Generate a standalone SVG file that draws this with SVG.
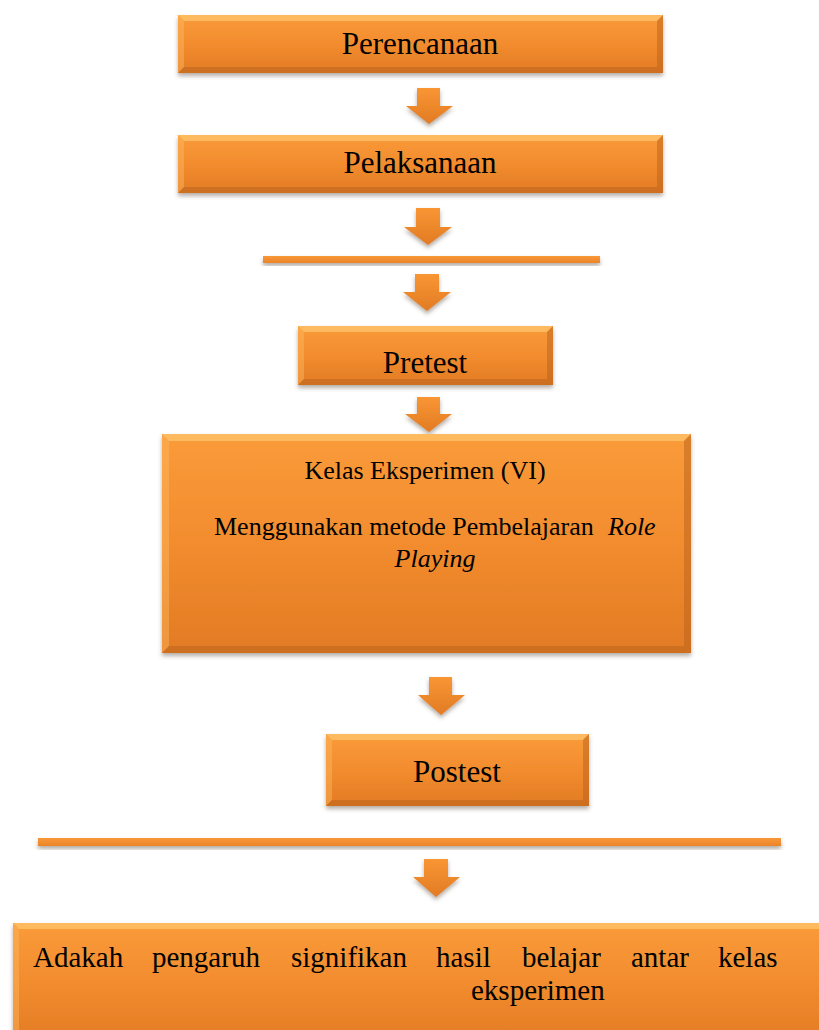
<svg xmlns="http://www.w3.org/2000/svg" width="819" height="1030" viewBox="0 0 819 1030">
<defs>
<linearGradient id="gBox" x1="0" y1="0" x2="0" y2="1">
<stop offset="0" stop-color="#FA9B3A"/>
<stop offset="0.5" stop-color="#F28C2E"/>
<stop offset="1" stop-color="#E27B24"/>
</linearGradient>
<linearGradient id="gArrow" x1="0" y1="0" x2="0" y2="1">
<stop offset="0" stop-color="#F99634"/>
<stop offset="1" stop-color="#E27B24"/>
</linearGradient>
<linearGradient id="gLine" x1="0" y1="0" x2="0" y2="1">
<stop offset="0" stop-color="#F8983A"/>
<stop offset="1" stop-color="#EC8428"/>
</linearGradient>
<filter id="shadow" x="-10%" y="-20%" width="120%" height="160%">
<feDropShadow dx="0" dy="3" stdDeviation="2" flood-color="#5a4a3a" flood-opacity="0.45"/>
</filter>
</defs>
<style>
.box{fill:url(#gBox);filter:url(#shadow);}
.hi{fill:#FFC870;opacity:0.7;}
.hs{fill:#FDB860;opacity:0.45;}
.lo{fill:#B8621C;opacity:0.5;}
.arrow{fill:url(#gArrow);filter:url(#shadow);}
.line{fill:url(#gLine);filter:url(#shadow);}
.t{font-family:"Liberation Serif","Times New Roman",serif;fill:#000;}
.big{font-size:31px;}
.mid{font-size:26px;}
.fin{font-size:29px;}
</style>
<rect width="819" height="1030" fill="#fff"/>

<g id="connectors">
<path class="arrow" d="M417,88 H440 V106 H453 L429,124 L406,106 H417 Z"/>
<path class="arrow" d="M416,208 H440 V227 H452 L428,245 L404,227 H416 Z"/>
<rect id="line1" class="line" x="263" y="256" width="337" height="7"/>
<path class="arrow" d="M415,274 H439 V292 H451 L427,311 L403,292 H415 Z"/>
<path class="arrow" d="M417,397 H440 V414 H452 L429,432 L405,414 H417 Z"/>
<path class="arrow" d="M429,677 H452 V695 H465 L441,715 L418,695 H429 Z"/>
<rect id="line2" class="line" x="38" y="838" width="743" height="8"/>
<path class="arrow" d="M424,859 H448 V877 H460 L436,897 L413,877 H424 Z"/>
</g>

<g id="perencanaan">
<rect class="box" x="178" y="15" width="485" height="58"/>
<polygon class="hi" points="178,15 663,15 657,21 184,21"/>
<polygon class="hs" points="178,15 184,21 184,67 178,73"/>
<polygon class="lo" points="178,73 184,67 657,67 663,73"/>
<polygon class="lo" points="663,15 663,73 657,67 657,21"/>
<text class="t big" x="420" y="54" text-anchor="middle">Perencanaan</text>
</g>

<g id="pelaksanaan">
<rect class="box" x="178" y="135" width="485" height="58"/>
<polygon class="hi" points="178,135 663,135 657,141 184,141"/>
<polygon class="hs" points="178,135 184,141 184,187 178,193"/>
<polygon class="lo" points="178,193 184,187 657,187 663,193"/>
<polygon class="lo" points="663,135 663,193 657,187 657,141"/>
<text class="t big" x="420" y="173" text-anchor="middle">Pelaksanaan</text>
</g>

<g id="pretest">
<rect class="box" x="298" y="326" width="255" height="59"/>
<polygon class="hi" points="298,326 553,326 547,332 304,332"/>
<polygon class="hs" points="298,326 304,332 304,379 298,385"/>
<polygon class="lo" points="298,385 304,379 547,379 553,385"/>
<polygon class="lo" points="553,326 553,385 547,379 547,332"/>
<text class="t big" x="425" y="373" text-anchor="middle">Pretest</text>
</g>

<g id="kelas">
<rect class="box" x="162" y="434" width="529" height="219"/>
<polygon class="hi" points="162,434 691,434 684,441 169,441"/>
<polygon class="hs" points="162,434 169,441 169,646 162,653"/>
<polygon class="lo" points="162,653 169,646 684,646 691,653"/>
<polygon class="lo" points="691,434 691,653 684,646 684,441"/>
<text class="t mid" x="425" y="479" text-anchor="middle">Kelas Eksperimen (VI)</text>
<text class="t mid" x="214" y="535">Menggunakan metode Pembelajaran<tspan x="608" font-style="italic">Role</tspan></text>
<text class="t mid" x="435" y="567" text-anchor="middle" font-style="italic">Playing</text>
</g>

<g id="postest">
<rect class="box" x="326" y="734" width="263" height="72"/>
<polygon class="hi" points="326,734 589,734 583,740 332,740"/>
<polygon class="hs" points="326,734 332,740 332,800 326,806"/>
<polygon class="lo" points="326,806 332,800 583,800 589,806"/>
<polygon class="lo" points="589,734 589,806 583,800 583,740"/>
<text class="t big" x="457" y="782" text-anchor="middle">Postest</text>
</g>

<g id="kesimpulan">
<rect class="box" x="13" y="923" width="830" height="120"/>
<polygon class="hi" points="13,923 843,923 837,929 19,929"/>
<polygon class="hs" points="13,923 19,929 19,1043 13,1043"/>
<text class="t fin" y="967"><tspan x="33">Adakah</tspan><tspan x="152">pengaruh</tspan><tspan x="291">signifikan</tspan><tspan x="436">hasil</tspan><tspan x="522">belajar</tspan><tspan x="631">antar</tspan><tspan x="718">kelas</tspan></text>
<text class="t fin" x="471" y="1000">eksperimen</text>
</g>
</svg>
